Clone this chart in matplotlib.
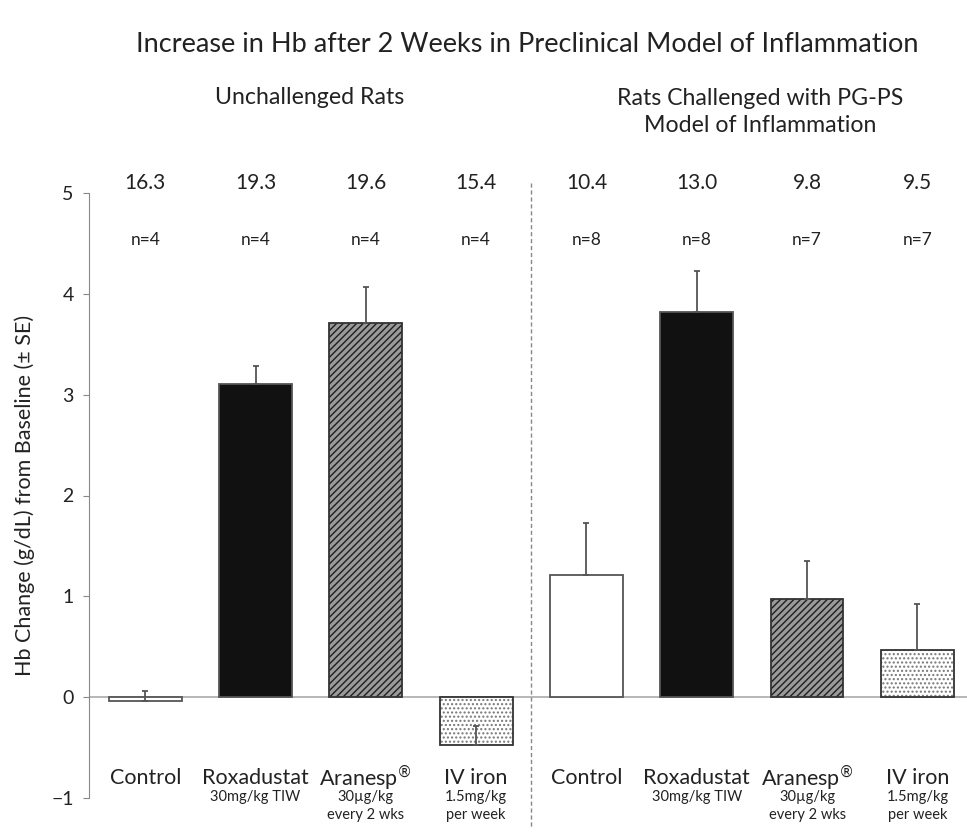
import numpy as np
import matplotlib.pyplot as plt

plt.rcParams['font.family'] = ['Lato', 'DejaVu Sans']

# data
groups = ['Unchallenged Rats', 'Rats Challenged with PG-PS\nModel of Inflammation']
drugs = ['Control', 'Roxadustat', 'Aranesp$^{\\circledR}$', 'IV iron']
doses = ['', '30mg/kg TIW', '30\u00b5g/kg\nevery 2 wks', '1.5mg/kg\nper week']
hb_change = [-0.04, 3.11, 3.71, -0.47, 1.21, 3.82, 0.97, 0.47]
se_upper = [0.10, 0.17, 0.36, 0.18, 0.52, 0.41, 0.38, 0.45]
top_values = ['16.3', '19.3', '19.6', '15.4', '10.4', '13.0', '9.8', '9.5']
n_labels = ['n=4', 'n=4', 'n=4', 'n=4', 'n=8', 'n=8', 'n=7', 'n=7']

faces = ['white', '#111111', '#9a9a9a', 'white']
hatches = [None, None, '/////', '....']
hatch_cols = [None, None, '#1e1e1e', '#777777']

fig = plt.figure(figsize=(9.67, 8.32), dpi=100)
ax = fig.add_axes([89/967, (832-798)/832, 1 - 89/967, (798-193)/832])

x = np.arange(len(hb_change))
w = 0.66
for i in x:
    k = i % 4
    if hatches[k]:
        ax.bar(x[i], hb_change[i], w, color=faces[k], hatch=hatches[k],
               edgecolor=hatch_cols[k], linewidth=0, zorder=2)
        ax.bar(x[i], hb_change[i], w, fill=False, edgecolor='#333333',
               linewidth=1.3, zorder=3)
    else:
        ax.bar(x[i], hb_change[i], w, color=faces[k], edgecolor='#555555',
               linewidth=1.3, zorder=2)

ax.errorbar(x, hb_change, yerr=[np.zeros(len(x)), se_upper], fmt='none',
            ecolor='#555555', elinewidth=1.3, capsize=2.5, capthick=1.3, zorder=4)

ax.set_xlim(-0.51, 7.45)
ax.set_ylim(-1, 5)
ax.set_yticks(range(-1, 6))
ax.tick_params(axis='y', direction='out', length=4, color='#888888', labelsize=14,
               labelcolor='#222222', pad=7)
ax.set_xticks([])
for s in ['top', 'right', 'bottom']:
    ax.spines[s].set_visible(False)
ax.spines['left'].set_color('#888888')
ax.axhline(0, color='#aaaaaa', lw=1.2, zorder=1)

# dashed divider between the two groups
ax.plot([3.5, 3.5], [5.1, -1.3], ls=(0, (3, 2)), color='#888888', lw=1,
        clip_on=False, zorder=1)

ax.set_ylabel('Hb Change (g/dL) from Baseline (\u00b1 SE)', fontsize=15.5,
              color='#222222', labelpad=12)

for i in x:
    ax.text(x[i], 5.1, top_values[i], ha='center', va='center', fontsize=15, color='#222222')
    ax.text(x[i], 4.53, n_labels[i], ha='center', va='center', fontsize=12.5, color='#222222')
    ax.text(x[i], -0.8, drugs[i % 4], ha='center', va='center', fontsize=15.5, color='#222222')
    if doses[i % 4]:
        ax.text(x[i], -0.92, doses[i % 4], ha='center', va='top', fontsize=10.5,
                color='#222222', linespacing=1.35)

fig.text(527/967, 1 - 45/832, 'Increase in Hb after 2 Weeks in Preclinical Model of Inflammation',
         ha='center', va='center', fontsize=19.5, color='#222222')
fig.text(310/967, 1 - 98/832, groups[0], ha='center', va='center', fontsize=16.7, color='#222222')
fig.text(760/967, 1 - 112/832, groups[1], ha='center', va='center', fontsize=16.7,
         color='#222222', linespacing=1.4)

fig.savefig('out.png', dpi=100)
